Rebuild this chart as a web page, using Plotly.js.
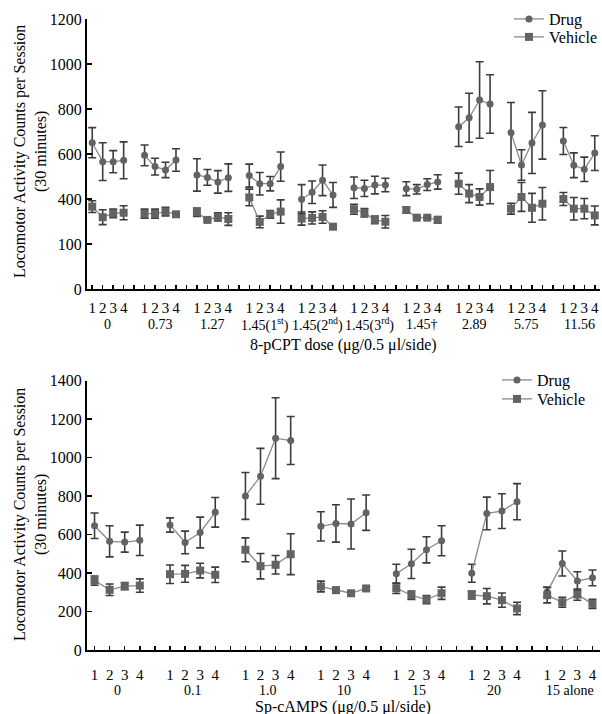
<!DOCTYPE html>
<html>
<head>
<meta charset="utf-8">
<script src="https://cdn.plot.ly/plotly-3.0.1.min.js"></script>
<style>html,body{margin:0;padding:0;background:#fff}#chart{width:602px;height:714px}</style>
</head>
<body>
<div id="chart"></div>
<script>
// ---------- DATA ----------
const sessions = ["1","2","3","4"];

const topGroups = ["0","0.73","1.27","1.45(1<sup>st</sup>)","1.45(2<sup>nd</sup>)","1.45(3<sup>rd</sup>)","1.45†","2.89","5.75","11.56"];
const topDrug = [650,566,566,572, 594,544,529,573, 507,496,476,495, 504,468,468,544, 399,430,483,418, 450,447,462,462, 446,443,464,476, 721,761,840,822, 695,551,649,729, 658,550,532,604];
const topDrugErr = [67,84,49,82, 46,37,34,50, 72,35,50,61, 51,50,32,65, 65,50,68,55, 48,36,39,30, 31,21,26,32, 88,109,170,130, 134,68,136,152, 60,55,54,77];
const topVeh = [366,319,336,339, 335,335,344,332, 341,307,321,311, 407,298,332,344, 313,316,320,277, 354,339,307,299, 351,317,317,307, 468,424,409,453, 357,409,361,379, 400,357,357,327];
const topVehErr = [26,33,19,31, 20,20,19,10, 19,5,18,28, 37,26,17,52, 29,27,28,8, 22,19,17,28, 12,6,6,15, 47,40,36,74, 24,64,64,72, 29,50,45,42];
const topYTickVals = [0,200,400,600,800,1000,1200];
const topYTickText = ["0","100","400","600","800","1000","1200"];

const botGroups = ["0","0.1","1.0","10","15","20","15 alone"];
const botDrug = [646,565,561,570, 650,559,611,716, 801,903,1101,1089, 643,658,655,714, 396,448,521,568, 399,710,722,771, 302,450,359,375];
const botDrugErr = [66,81,52,79, 37,59,80,77, 122,145,210,125, 76,97,130,92, 50,76,68,78, 47,85,90,94, 25,65,48,41];
const botVeh = [361,313,332,335, 394,396,413,391, 521,436,443,498, 330,311,295,320, 321,285,262,295, 286,280,259,216, 285,248,288,240];
const botVehErr = [24,30,19,35, 48,44,38,40, 62,66,48,106, 28,15,12,10, 27,22,21,32, 20,40,37,32, 40,26,29,24];

// ---------- BUILD ----------
const FONT = "Liberation Serif, Times New Roman, serif";
const W = 602, H = 714;
const MARK = "#636363", LINE = "#8a8a8a", ERR = "#3c3c3c";

function expand(vals, nG){ // insert gaps between groups
  const x=[], y=[];
  for(let g=0; g<nG; g++){
    for(let s=0; s<4; s++){ x.push(g*5+s+1); y.push(vals[g*4+s]); }
    if(g<nG-1){ x.push(g*5+5); y.push(null); }
  }
  return {x, y};
}
function mk(vals, errs, nG, name, sym, size, xa, ya, legend){
  const a = expand(vals, nG), e = expand(errs, nG);
  return {
    type:"scatter", mode:"lines+markers", name, x:a.x, y:a.y,
    xaxis:xa, yaxis:ya, legend, showlegend:true, connectgaps:false,
    line:{color:LINE, width:1.3},
    marker:{symbol:sym, size, color:MARK},
    error_y:{type:"data", array:e.y, visible:true, color:ERR, thickness:1.6, width:4}
  };
}
const nT = topGroups.length, nB = botGroups.length;
const traces = [
  mk(topDrug, topDrugErr, nT, "Drug", "circle", 7, "x", "y", "legend"),
  mk(topVeh, topVehErr, nT, "Vehicle", "square", 8, "x", "y", "legend2"),
  mk(botDrug, botDrugErr, nB, "Drug", "circle", 7, "x2", "y2", "legend3"),
  mk(botVeh, botVehErr, nB, "Vehicle", "square", 8, "x2", "y2", "legend4")
];

function xTicks(nG){
  const v=[], t=[], gaps=[];
  for(let g=0; g<nG; g++){
    for(let s=0;s<4;s++){ v.push(g*5+s+1); t.push(sessions[s]); }
    if(g<nG-1) gaps.push(g*5+5);
  }
  return {v,t,gaps};
}
const tT = xTicks(nT), tB = xTicks(nB);
const px = p => p/W, py = p => 1 - p/H;

const axCommon = {showline:true, linecolor:"#000", linewidth:2, ticks:"inside", tickcolor:"#000",
  tickwidth:1.5, zeroline:false, showgrid:false, tickfont:{family:FONT, size:15, color:"#000"}, fixedrange:true};

const annotations = [];
const gfont = {family:FONT,size:14,color:"#000"};
topGroups.forEach((g,i)=>annotations.push({xref:"x", yref:"paper", x:i*5+2.5, y:py(325), text:g,
  showarrow:false, font:gfont, yanchor:"middle"}));
botGroups.forEach((g,i)=>annotations.push({xref:"x2", yref:"paper", x:i*5+2.5, y:py(690), text:g,
  showarrow:false, font:gfont, yanchor:"middle"}));
const tfont = {family:FONT,size:16,color:"#000"};
annotations.push({xref:"paper", yref:"paper", x:px(343), y:py(345), text:"8-pCPT dose (μg/0.5 μl/side)",
  showarrow:false, font:tfont, yanchor:"middle"});
annotations.push({xref:"paper", yref:"paper", x:px(343), y:py(707), text:"Sp-cAMPS (μg/0.5 μl/side)",
  showarrow:false, font:tfont, yanchor:"middle"});
const ytitle = "Locomotor Activity Counts per Session<br>(30 minutes)";
annotations.push({xref:"paper", yref:"paper", x:px(30), y:py(152), text:ytitle, textangle:-90,
  showarrow:false, font:tfont, xanchor:"center", yanchor:"middle"});
annotations.push({xref:"paper", yref:"paper", x:px(30), y:py(515), text:ytitle, textangle:-90,
  showarrow:false, font:tfont, xanchor:"center", yanchor:"middle"});

function leg(xp, yp){
  return {x:px(xp), y:py(yp), xanchor:"left", yanchor:"middle", bgcolor:"rgba(0,0,0,0)",
    font:{family:FONT,size:16,color:"#000"}, tracegroupgap:0, itemwidth:30};
}
const yTickFont = {family:FONT, size:16, color:"#000"};
const layout = {
  width:W, height:H, margin:{l:0,r:0,t:0,b:0}, paper_bgcolor:"#fff", plot_bgcolor:"#fff",
  font:{family:FONT, color:"#000"},
  xaxis:Object.assign({}, axCommon, {domain:[px(87), px(600)], range:[0.5, nT*5-0.5], anchor:"y",
    tickvals:tT.v, ticktext:tT.t, ticklen:4, ticklabelstandoff:4,
    minor:{tickvals:tT.gaps, ticks:"inside", ticklen:4, tickwidth:1.5, tickcolor:"#000"}}),
  yaxis:Object.assign({}, axCommon, {domain:[py(289), py(19)], range:[0,1200], anchor:"x",
    tickvals:topYTickVals, ticktext:topYTickText, ticklen:5, tickfont:yTickFont}),
  xaxis2:Object.assign({}, axCommon, {domain:[px(87), px(600)], range:[0.5, nB*5-0.5], anchor:"y2",
    tickvals:tB.v, ticktext:tB.t, ticklen:4, ticklabelstandoff:10,
    minor:{tickvals:tB.gaps, ticks:"inside", ticklen:4, tickwidth:1.5, tickcolor:"#000"}}),
  yaxis2:Object.assign({}, axCommon, {domain:[py(650), py(380.7)], range:[0,1400], anchor:"x2",
    dtick:200, tick0:0, ticklen:5, tickfont:yTickFont}),
  legend:leg(509, 19),
  legend2:leg(509, 37),
  legend3:leg(497, 380),
  legend4:leg(497, 399),
  annotations
};
Plotly.newPlot("chart", traces, layout, {displayModeBar:false, staticPlot:true});
</script>
</body>
</html>
